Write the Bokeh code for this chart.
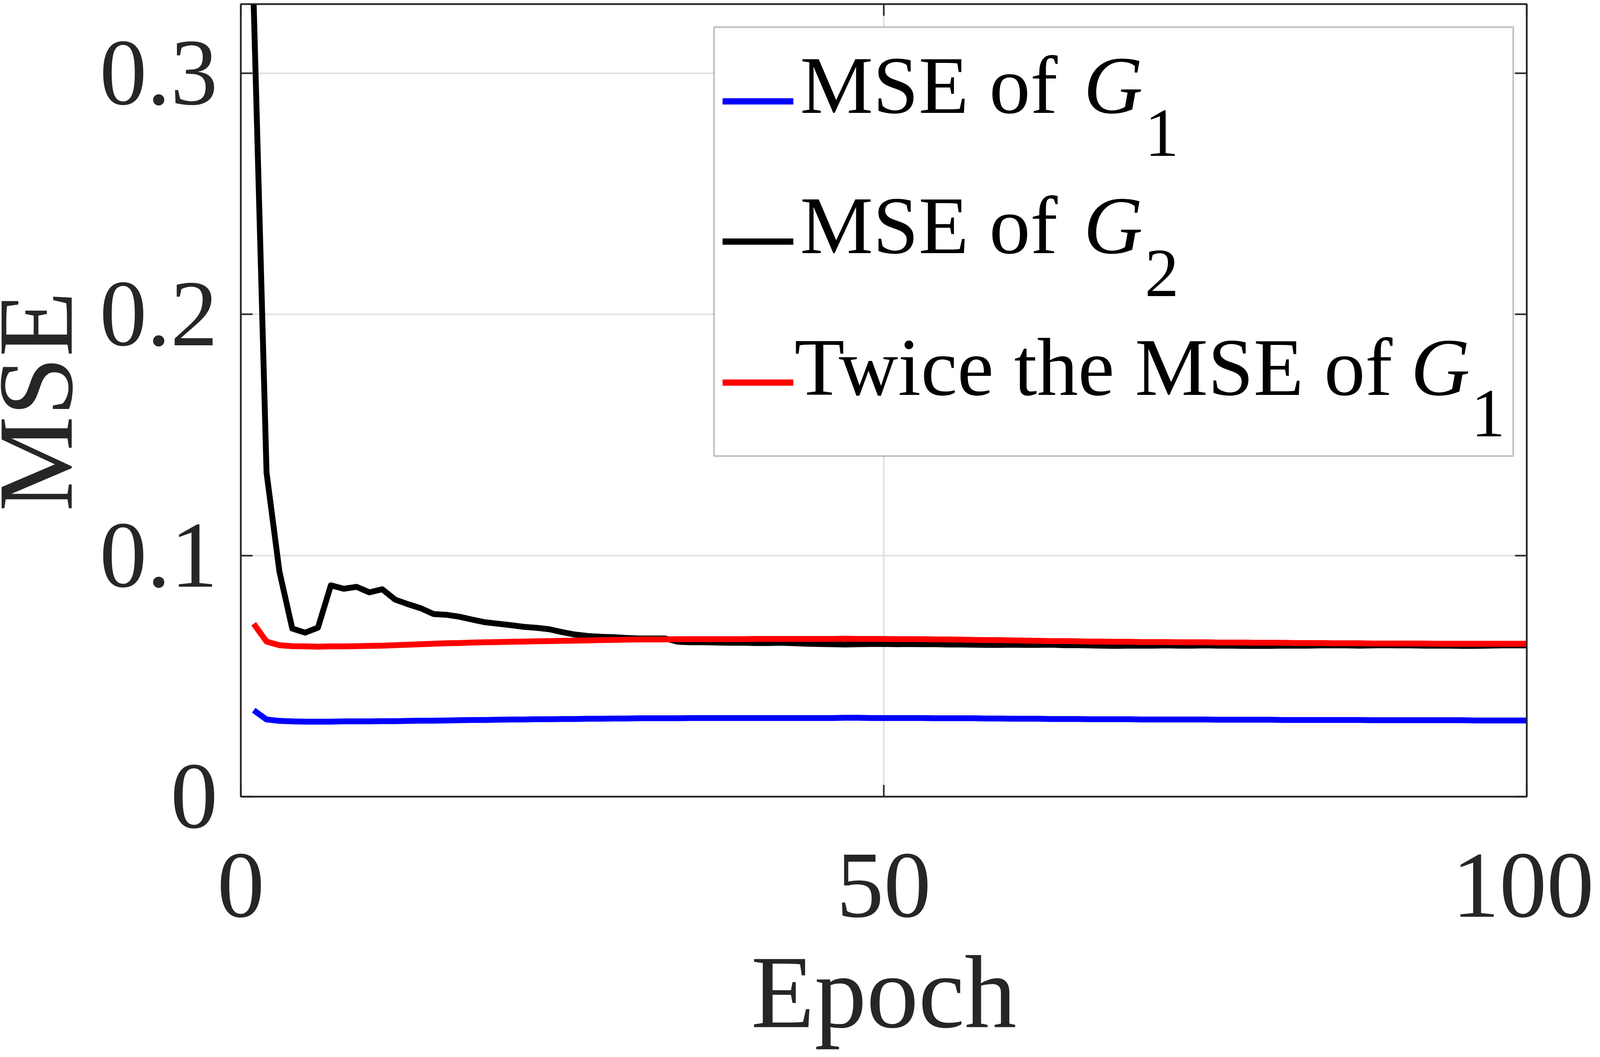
import numpy as np
from bokeh.plotting import figure
from bokeh.layouts import row
from bokeh.models import Range1d, FixedTicker, LinearAxis, Label, BoxAnnotation
from bokeh.embed import file_html
from bokeh.resources import INLINE

# ---------------- data ----------------
epochs = list(range(1, 101))

mse_g1 = [
    0.0358, 0.0320, 0.0314, 0.0312, 0.0311, 0.0311, 0.0311, 0.0312, 0.0312, 0.0312,
    0.0313, 0.0313, 0.0314, 0.0315, 0.0315, 0.0316, 0.0317, 0.0318, 0.0318, 0.0319,
    0.0320, 0.0320, 0.0321, 0.0321, 0.0322, 0.0322, 0.0323, 0.0323, 0.0324, 0.0324,
    0.0325, 0.0325, 0.0325, 0.0325, 0.0326, 0.0326, 0.0326, 0.0326, 0.0326, 0.0326,
    0.0326, 0.0326, 0.0326, 0.0326, 0.0326, 0.0326, 0.0327, 0.0327, 0.0326, 0.0326,
    0.0326, 0.0326, 0.0326, 0.0325, 0.0325, 0.0325, 0.0325, 0.0324, 0.0324, 0.0323,
    0.0323, 0.0323, 0.0322, 0.0322, 0.0322, 0.0321, 0.0321, 0.0321, 0.0321, 0.0320,
    0.0320, 0.0320, 0.0320, 0.0320, 0.0320, 0.0319, 0.0319, 0.0319, 0.0319, 0.0319,
    0.0318, 0.0318, 0.0318, 0.0318, 0.0318, 0.0318, 0.0318, 0.0317, 0.0317, 0.0317,
    0.0317, 0.0317, 0.0317, 0.0317, 0.0317, 0.0316, 0.0316, 0.0316, 0.0316, 0.0316,
]

mse_g2 = [
    0.3286, 0.1344, 0.0934, 0.0697, 0.0680, 0.0701, 0.0876, 0.0862, 0.0870, 0.0847,
    0.0860, 0.0817, 0.0798, 0.0781, 0.0757, 0.0754, 0.0746, 0.0734, 0.0723, 0.0717,
    0.0711, 0.0704, 0.0700, 0.0694, 0.0682, 0.0672, 0.0666, 0.0663, 0.0661, 0.0658,
    0.0656, 0.0656, 0.0656, 0.0642, 0.0640, 0.0640, 0.0639, 0.0638, 0.0638, 0.0637,
    0.0637, 0.0638, 0.0636, 0.0634, 0.0633, 0.0632, 0.0631, 0.0632, 0.0633, 0.0633,
    0.0632, 0.0633, 0.0632, 0.0632, 0.0631, 0.0631, 0.0630, 0.0629, 0.0629, 0.0630,
    0.0629, 0.0629, 0.0630, 0.0628, 0.0628, 0.0627, 0.0626, 0.0625, 0.0626, 0.0626,
    0.0626, 0.0627, 0.0626, 0.0626, 0.0627, 0.0626, 0.0626, 0.0625, 0.0625, 0.0625,
    0.0626, 0.0626, 0.0626, 0.0627, 0.0627, 0.0627, 0.0626, 0.0627, 0.0628, 0.0627,
    0.0627, 0.0626, 0.0626, 0.0626, 0.0625, 0.0625, 0.0626, 0.0627, 0.0627, 0.0627,
]

twice_mse_g1 = [
    0.0717, 0.0643, 0.0628, 0.0624, 0.0623, 0.0622, 0.0623, 0.0623, 0.0624, 0.0625,
    0.0626, 0.0628, 0.0630, 0.0632, 0.0634, 0.0636, 0.0637, 0.0639, 0.0640, 0.0641,
    0.0642, 0.0643, 0.0644, 0.0645, 0.0646, 0.0647, 0.0648, 0.0649, 0.0650, 0.0651,
    0.0652, 0.0652, 0.0652, 0.0653, 0.0653, 0.0653, 0.0653, 0.0653, 0.0653, 0.0654,
    0.0654, 0.0654, 0.0654, 0.0654, 0.0654, 0.0654, 0.0655, 0.0654, 0.0654, 0.0654,
    0.0653, 0.0653, 0.0653, 0.0652, 0.0652, 0.0651, 0.0650, 0.0649, 0.0649, 0.0648,
    0.0647, 0.0646, 0.0645, 0.0645, 0.0644, 0.0643, 0.0643, 0.0642, 0.0642, 0.0641,
    0.0641, 0.0641, 0.0640, 0.0640, 0.0640, 0.0639, 0.0639, 0.0639, 0.0638, 0.0638,
    0.0638, 0.0637, 0.0637, 0.0637, 0.0636, 0.0636, 0.0636, 0.0635, 0.0635, 0.0635,
    0.0635, 0.0635, 0.0634, 0.0634, 0.0634, 0.0634, 0.0634, 0.0634, 0.0634, 0.0634,
]

x_ticks = [0, 50, 100]
x_tick_labels = ["0", "50", "100"]
y_ticks = [0, 0.1, 0.2, 0.3]
y_tick_labels = ["0", "0.1", "0.2", "0.3"]
x_limits = (0, 100)
y_limits = (0, 0.3286)

x_title = "Epoch"
y_title = "MSE"
series_names = ["MSE of", "MSE of", "Twice the MSE of"]
series_symbol = "G"
series_subscripts = ["1", "2", "1"]
series_colors = ["#0000ff", "#000000", "#ff0000"]

# ---------------- layout ----------------
# The browser viewport is 4096 px wide, so horizontal positions measured on the
# 4294 px wide reference are scaled by SX; vertical positions are kept.
SX = 4096 / 4294
MARGIN = 8
W, H = 4096 - 2 * MARGIN, 2706 - 2 * MARGIN


def fx(ref_x):            # reference page x -> figure x
    return ref_x * SX - MARGIN


def fy(ref_y):            # reference page y -> figure y (y down)
    return ref_y - MARGIN


FRAME_L, FRAME_R = round(fx(654.5)), round(fx(4105))
FRAME_T, FRAME_B = round(fy(18)), round(fy(2047))
YLAB_W = 244
MID = 0.3375              # Bokeh anchors these labels at the middle of the em box

AX = "#262626"
FONT = "Liberation Serif"
TICK_PX, YTITLE_PX, XTITLE_PX, LEG_PX, SUB_PX = 242, 274, 266, 210, 175

# strip with the rotated y title; its frame is aligned with the plot frame in the row
ylab = figure(width=YLAB_W, height=H, output_backend="svg", toolbar_location=None,
              x_range=Range1d(0, YLAB_W), y_range=Range1d(H - FRAME_B, H - FRAME_T),
              x_axis_type=None, y_axis_type=None,
              min_border=0, min_border_left=0, min_border_right=0,
              min_border_top=0, min_border_bottom=0,
              background_fill_color="white", border_fill_color="white")
ylab.outline_line_color = None
ylab.grid.visible = False
mse_base_x = 183
ylab.add_layout(Label(x=mse_base_x - MID * YTITLE_PX, y=H - fy(1035), text=y_title,
                      angle=np.pi / 2, text_align="center", text_baseline="middle",
                      text_font=FONT, text_font_size=f"{YTITLE_PX}px", text_color=AX))

PW = W - YLAB_W
p = figure(width=PW, height=H, output_backend="svg", toolbar_location=None,
           x_range=Range1d(*x_limits), y_range=Range1d(*y_limits),
           min_border_left=FRAME_L - YLAB_W, min_border_right=W - FRAME_R,
           min_border_top=FRAME_T, min_border_bottom=H - FRAME_B,
           background_fill_color="white", border_fill_color="white")

bottom_ax = p.below[0]
left_ax = p.left[0]
top_ax = LinearAxis()
right_ax = LinearAxis()
p.add_layout(top_ax, "above")
p.add_layout(right_ax, "right")

for ax in (bottom_ax, top_ax):
    ax.ticker = FixedTicker(ticks=x_ticks)
    ax.major_label_overrides = {t: s for t, s in zip(x_ticks, x_tick_labels)}
for ax in (left_ax, right_ax):
    ax.ticker = FixedTicker(ticks=y_ticks)
    ax.major_label_overrides = {t: s for t, s in zip(y_ticks, y_tick_labels)}

for ax in (bottom_ax, top_ax, left_ax, right_ax):
    ax.axis_line_color = AX
    ax.axis_line_width = 4
    ax.major_tick_in = 30
    ax.major_tick_out = 0
    ax.major_tick_line_color = AX
    ax.major_tick_line_width = 4
    ax.minor_tick_line_color = None
    ax.major_label_text_font = FONT
    ax.major_label_text_font_size = f"{TICK_PX}px"
    ax.major_label_text_color = AX

TICK_STANDOFF = 148
bottom_ax.major_label_standoff = TICK_STANDOFF
left_ax.major_label_standoff = 59
for ax in (top_ax, right_ax):
    ax.major_label_text_font_size = "1px"
    ax.major_label_text_color = None
    ax.major_label_standoff = 0

# x title as the axis label, placed where the reference has it
bottom_ax.axis_label = x_title
bottom_ax.axis_label_text_font = FONT
bottom_ax.axis_label_text_font_size = f"{XTITLE_PX}px"
bottom_ax.axis_label_text_font_style = "normal"
bottom_ax.axis_label_text_color = AX
bottom_ax.axis_label_standoff = 43

p.outline_line_color = AX
p.outline_line_width = 4

p.xgrid.grid_line_color = "#e0e0e0"
p.ygrid.grid_line_color = "#e0e0e0"
p.xgrid.grid_line_width = 4
p.ygrid.grid_line_width = 4

for ys, c in zip([mse_g1, mse_g2, twice_mse_g1], series_colors):
    p.line(epochs, ys, line_color=c, line_width=15, line_join="round")

FW = FRAME_R - FRAME_L
FH = FRAME_B - FRAME_T


def dx(ref_x):
    return x_limits[0] + (fx(ref_x) - FRAME_L) * (x_limits[1] - x_limits[0]) / FW


def dy(f_y):
    return y_limits[0] + (FRAME_B - f_y) * (y_limits[1] - y_limits[0]) / FH


# hand-made legend (reference page coordinates)
p.add_layout(BoxAnnotation(left=dx(1924), right=dx(4069), top=dy(fy(77)), bottom=dy(fy(1175)),
                           fill_color="white", fill_alpha=1.0,
                           line_color=AX, line_width=4))

row_line_y = [267, 626, 987]
row_base_y = [296, 655, 1018]
row_sub_y = [408, 767, 1126]
row_text_x = [2155, 2155, 2140]
row_g_x = [2916, 2916, 3794]
row_sub_x = [3080, 3080, 3956]

for i in range(3):
    p.add_layout(BoxAnnotation(left=dx(1947), right=dx(2137),
                               top=dy(fy(row_line_y[i]) - 8), bottom=dy(fy(row_line_y[i]) + 8),
                               fill_color=series_colors[i], fill_alpha=1.0, line_color=None))
    base = fy(row_base_y[i]) - MID * LEG_PX
    p.add_layout(Label(x=dx(row_text_x[i]), y=dy(base), text=series_names[i],
                       text_align="left", text_baseline="middle",
                       text_font=FONT, text_font_size=f"{LEG_PX}px", text_color="black"))
    p.add_layout(Label(x=dx(row_g_x[i]), y=dy(base), text=series_symbol,
                       text_align="left", text_baseline="middle", text_font_style="italic",
                       text_font=FONT, text_font_size=f"{LEG_PX}px", text_color="black"))
    p.add_layout(Label(x=dx(row_sub_x[i]), y=dy(fy(row_sub_y[i]) - MID * SUB_PX),
                       text=series_subscripts[i], text_align="left", text_baseline="middle",
                       text_font=FONT, text_font_size=f"{SUB_PX}px", text_color="black"))

layout = row(ylab, p, spacing=0)

open("out.html", "w").write(file_html(layout, INLINE))
